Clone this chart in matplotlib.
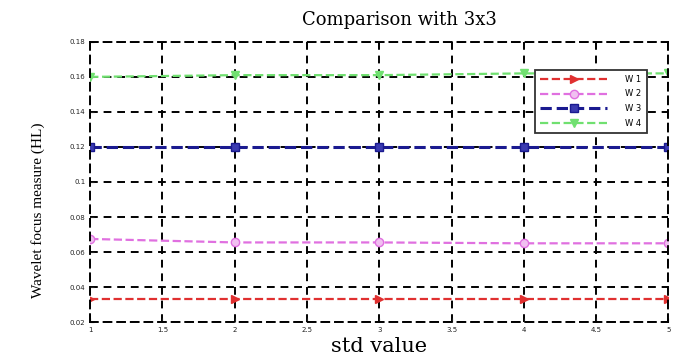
import matplotlib
matplotlib.use('Agg')
import matplotlib.pyplot as plt

# std values and focus measure for each wavelet
std_vals = [1, 2, 3, 4, 5]
w1 = [0.033, 0.033, 0.033, 0.033, 0.033]
w2 = [0.0675, 0.0655, 0.0655, 0.065, 0.065]
w3 = [0.120, 0.120, 0.120, 0.120, 0.120]
w4 = [0.160, 0.161, 0.161, 0.162, 0.162]

x_ticks = [1, 1.5, 2, 2.5, 3, 3.5, 4, 4.5, 5]
x_labels = ['1', '1.5', '2', '2.5', '3', '3.5', '4', '4.5', '5']
y_ticks = [0.02, 0.04, 0.06, 0.08, 0.1, 0.12, 0.14, 0.16, 0.18]
y_labels = ['0.02', '0.04', '0.06', '0.08', '0.1', '0.12', '0.14', '0.16', '0.18']

fig = plt.figure(figsize=(6.94, 3.64), dpi=100)
ax = fig.add_axes([0.130, 0.115, 0.833, 0.770])

ax.plot(std_vals, w1, '--', color='#e03030', marker='>', ms=6, lw=1.6, label='W 1')
ax.plot(std_vals, w2, '--', color='#e070e0', marker='o', ms=6, mfc='#f0c0f0', lw=1.6, label='W 2')
ax.plot(std_vals, w3, '--', color='#1a1a90', marker='s', ms=6, mfc='#3a3ab0', lw=2.2, label='W 3')
ax.plot(std_vals, w4, '--', color='#70e070', marker='v', ms=6, lw=1.6, label='W 4')

ax.set_xlim(1, 5)
ax.set_ylim(0.02, 0.18)
ax.set_xticks(x_ticks)
ax.set_xticklabels(x_labels)
ax.set_yticks(y_ticks)
ax.set_yticklabels(y_labels)
ax.tick_params(labelsize=5, direction='in', length=3, colors='#222222')
ax.grid(True, color='black', linestyle=(0, (4, 3)), linewidth=1.4)

# dashed frame instead of solid spines
for s in ax.spines.values():
    s.set_linestyle((0, (4, 3)))
    s.set_linewidth(1.4)

fig.text(0.576, 0.945, 'Comparison with 3x3', fontsize=13, family='DejaVu Serif',
         ha='center', va='center')
ax.set_xlabel('std value', fontsize=15, family='DejaVu Serif', labelpad=3)
ax.set_ylabel('Wavelet focus measure (HL)', fontsize=11, family='Liberation Serif')
ax.yaxis.set_label_coords(-0.078, 0.40)

leg = ax.legend(loc='upper right', bbox_to_anchor=(0.967, 0.91), fontsize=6,
                frameon=True, fancybox=False, edgecolor='#333333', framealpha=1,
                handlelength=8, labelspacing=0.7, borderpad=0.6, handletextpad=2.2,
                borderaxespad=0.3)
leg.get_frame().set_linewidth(1.3)

plt.savefig('out.png', dpi=100)
